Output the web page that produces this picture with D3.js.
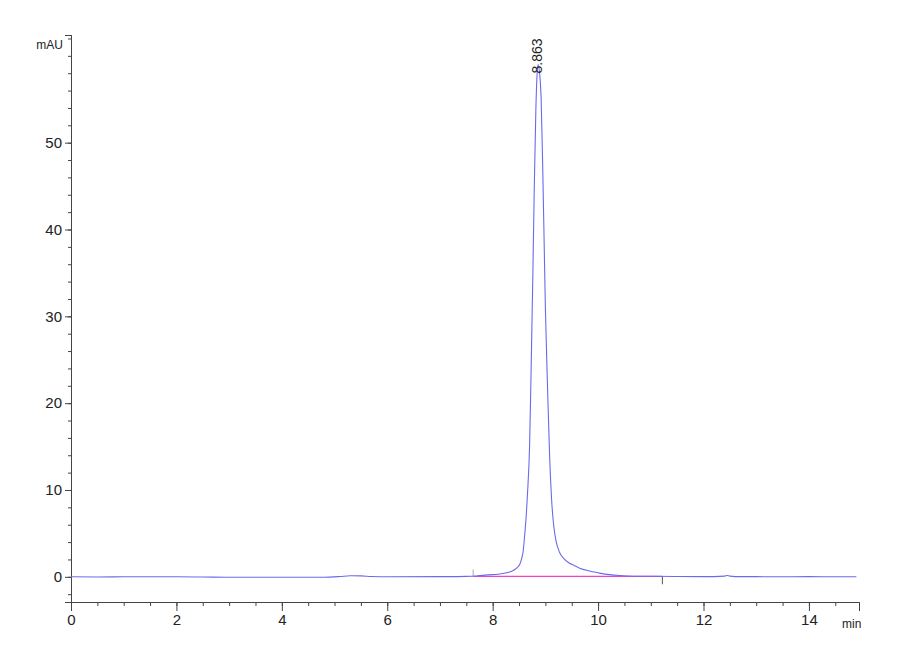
<!DOCTYPE html>
<html>
<head>
<meta charset="utf-8">
<script src="https://cdn.jsdelivr.net/npm/d3@7"></script>
<style>
  body { margin: 0; background: #fff; }
  svg text { font-family: "Liberation Sans Narrow", "Liberation Sans", Arial, sans-serif; fill: #222; }
</style>
</head>
<body>
<script>
// Chromatogram trace (min, mAU)
const times = [
  0, 0.5, 1.0, 2.0, 2.5, 3.0, 4.0, 4.8, 5.1, 5.3, 5.5, 5.7, 6.0, 7.0, 7.5, 7.7,
  7.9, 8.1, 8.26, 8.35, 8.42, 8.47, 8.51, 8.55, 8.58, 8.6, 8.63, 8.66, 8.7, 8.73,
  8.76, 8.79, 8.82, 8.84, 8.863, 8.89, 8.92, 8.95, 8.975, 9.0, 9.04, 9.08, 9.12,
  9.16, 9.2, 9.27, 9.35, 9.45, 9.52, 9.65, 9.8, 9.9, 10.05, 10.22, 10.4, 10.55,
  11.0, 11.5, 12.0, 12.4, 12.45, 12.5, 12.7, 13.0, 13.5, 14.0, 14.5, 14.9
];
const signal = [
  0, -0.02, 0, 0, -0.02, -0.05, -0.05, -0.05, 0.03, 0.12, 0.11, 0.03, 0, 0.02, 0.05, 0.1,
  0.22, 0.3, 0.46, 0.62, 0.85, 1.1, 1.4, 2.1, 3.0, 4.3, 6.5, 9.5, 15, 24,
  34, 45, 54, 57.6, 59, 58, 55, 47, 39, 31, 22, 14, 8.7,
  5.8, 4.2, 2.8, 2.1, 1.6, 1.38, 1.0, 0.72, 0.58, 0.4, 0.25, 0.15, 0.1,
  0.06, 0.03, 0.02, 0.08, 0.16, 0.08, 0.02, 0.02, 0, 0.02, 0, 0
];

// Integration baseline and peak annotation
const baselineTimes = [7.63, 11.22];
const baselineValues = [0.05, 0.06];
const peakTime = 8.863;
const peakValue = 59;
const peakLabel = "8.863";

// Axis ticks
const xLabelTicks = [0, 2, 4, 6, 8, 10, 12, 14];
const yLabelTicks = [0, 10, 20, 30, 40, 50];
const xMinorTicks = d3.range(0, 15, 0.5);
const yMinorTicks = d3.range(-2, 63, 2);

const width = 900;
const height = 660;

const svg = d3
  .select("body")
  .append("svg")
  .attr("width", width)
  .attr("height", height);

// Scales
const xScale = d3.scaleLinear().domain([0, 14.95]).range([71, 859]);
const yScale = d3.scaleLinear().domain([-2.9, 62.4]).range([602, 35]);

const axisColor = "#444";

// Minor ticks first, labelled ticks on top
const xMinor = d3.axisBottom(xScale).tickValues(xMinorTicks).tickSize(4).tickFormat("");
const yMinor = d3.axisLeft(yScale).tickValues(yMinorTicks).tickSize(3).tickFormat("");
const xAxis = d3.axisBottom(xScale).tickValues(xLabelTicks).tickSize(9).tickPadding(3).tickFormat(d3.format("d"));
const yAxis = d3.axisLeft(yScale).tickValues(yLabelTicks).tickSize(6).tickPadding(3).tickFormat(d3.format("d"));

svg.append("g").attr("transform", "translate(0,602)").call(xMinor);
svg.append("g").attr("transform", "translate(71,0)").call(yMinor);

svg
  .append("g")
  .attr("id", "x-axis")
  .attr("transform", "translate(0,602)")
  .call(xAxis);

svg
  .append("g")
  .attr("id", "y-axis")
  .attr("transform", "translate(71,0)")
  .call(yAxis);

svg.selectAll(".domain").attr("stroke", axisColor);
svg.selectAll(".tick line").attr("stroke", axisColor);
svg.selectAll(".tick text").attr("font-size", 15).attr("fill", "#222");

// Unit labels
svg
  .append("text")
  .attr("x", 63)
  .attr("y", 49)
  .attr("text-anchor", "end")
  .attr("font-size", 12)
  .text("mAU");

svg
  .append("clipPath")
  .attr("id", "unit-clip")
  .append("rect")
  .attr("x", 830)
  .attr("y", 605)
  .attr("width", 31)
  .attr("height", 30);

svg
  .append("text")
  .attr("x", 842)
  .attr("y", 628)
  .attr("font-size", 12)
  .attr("clip-path", "url(#unit-clip)")
  .text("min");

// Baseline of integration
svg
  .append("line")
  .attr("x1", xScale(baselineTimes[0]))
  .attr("y1", yScale(baselineValues[0]))
  .attr("x2", xScale(baselineTimes[1]))
  .attr("y2", yScale(baselineValues[1]))
  .attr("stroke", "#f040d0")
  .attr("stroke-width", 1.3);

// Start / end markers of the integration
svg
  .append("line")
  .attr("x1", xScale(baselineTimes[0]))
  .attr("x2", xScale(baselineTimes[0]))
  .attr("y1", yScale(baselineValues[0]) - 7)
  .attr("y2", yScale(baselineValues[0]))
  .attr("stroke", "#aaa");

svg
  .append("line")
  .attr("x1", xScale(baselineTimes[1]))
  .attr("x2", xScale(baselineTimes[1]))
  .attr("y1", yScale(baselineValues[1]))
  .attr("y2", yScale(baselineValues[1]) + 8)
  .attr("stroke", "#555");

// Trace
const line = d3
  .line()
  .x((d, i) => xScale(times[i]))
  .y((d) => yScale(d))
  .curve(d3.curveMonotoneX);

svg
  .append("path")
  .datum(signal)
  .attr("fill", "none")
  .attr("stroke", "#6a6af0")
  .attr("stroke-width", 1.1)
  .attr("d", line);

// Peak retention time label, rotated
svg
  .append("text")
  .attr("transform", `translate(${xScale(peakTime) + 4},${yScale(peakValue) + 9}) rotate(-90)`)
  .attr("font-size", 14)
  .attr("fill", "#333")
  .text(peakLabel);
</script>
</body>
</html>
